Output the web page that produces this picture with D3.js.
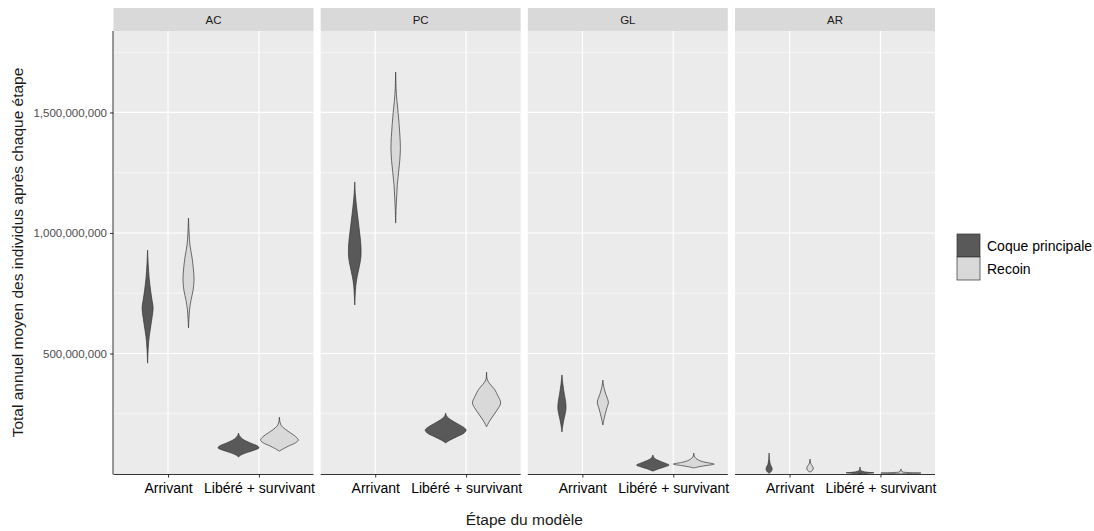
<!DOCTYPE html>
<meta charset="utf-8">
<style>
body { margin: 0; background: #fff; }
text { font-family: "Liberation Sans", Arial, sans-serif; }
</style>
<svg width="1094" height="531"></svg>
<script src="https://d3js.org/d3.v7.min.js"></script>
<script>

// facets, stages, groups
var panels = ["AC", "PC", "GL", "AR"];
var stages = ["Arrivant", "Libéré + survivant"];
var groups = ["Coque principale", "Recoin"];
var groupFill = ["#595959", "#D9D9D9"];

var yMajor = [500000000, 1000000000, 1500000000];
var yMinor = [250000000, 750000000, 1250000000, 1750000000];

// violin outlines: [value in millions, relative half-width]
var violins = [
  ["AC", "Arrivant", "Coque principale", [[929,0],[870,0.03],[810,0.08],[760,0.15],[720,0.22],[690,0.27],[650,0.22],[610,0.15],[570,0.08],[520,0.03],[460,0]]],
  ["AC", "Arrivant", "Recoin", [[1062,0],[1000,0.03],[950,0.07],[900,0.17],[850,0.24],[805,0.27],[760,0.22],[720,0.12],[680,0.05],[640,0.02],[606,0]]],
  ["AC", "Libéré + survivant", "Coque principale", [[170,0],[160,0.04],[145,0.2],[130,0.55],[115,0.95],[108,1],[100,0.8],[90,0.45],[80,0.15],[71,0]]],
  ["AC", "Libéré + survivant", "Recoin", [[236,0],[215,0.03],[200,0.1],[185,0.3],[170,0.55],[155,0.8],[141,0.92],[130,0.8],[118,0.5],[105,0.2],[95,0]]],
  ["PC", "Arrivant", "Coque principale", [[1212,0],[1160,0.03],[1100,0.1],[1050,0.17],[1000,0.24],[950,0.3],[900,0.3],[860,0.22],[820,0.12],[780,0.05],[740,0.02],[701,0]]],
  ["PC", "Arrivant", "Recoin", [[1668,0],[1600,0.02],[1550,0.06],[1500,0.12],[1450,0.17],[1400,0.21],[1350,0.23],[1300,0.2],[1250,0.14],[1200,0.08],[1150,0.05],[1100,0.02],[1041,0]]],
  ["PC", "Libéré + survivant", "Coque principale", [[253,0],[240,0.05],[225,0.25],[210,0.55],[195,0.85],[183,1],[170,0.9],[155,0.55],[140,0.2],[129,0]]],
  ["PC", "Libéré + survivant", "Recoin", [[423,0],[390,0.04],[370,0.2],[350,0.4],[325,0.55],[295,0.69],[270,0.55],[245,0.35],[220,0.15],[196,0]]],
  ["GL", "Arrivant", "Coque principale", [[411,0],[370,0.05],[330,0.12],[300,0.18],[274,0.2],[250,0.16],[220,0.08],[195,0.03],[174,0]]],
  ["GL", "Arrivant", "Recoin", [[390,0],[360,0.05],[330,0.15],[310,0.24],[295,0.27],[275,0.2],[250,0.12],[225,0.05],[203,0]]],
  ["GL", "Libéré + survivant", "Coque principale", [[79,0],[65,0.08],[55,0.3],[45,0.6],[37,0.8],[30,0.6],[22,0.3],[12,0]]],
  ["GL", "Libéré + survivant", "Recoin", [[87,0],[70,0.05],[55,0.3],[48,0.6],[41,1],[35,0.6],[30,0.25],[25,0]]],
  ["AR", "Arrivant", "Coque principale", [[87,0],[60,0.02],[40,0.06],[30,0.12],[20,0.15],[10,0.1],[3,0]]],
  ["AR", "Arrivant", "Recoin", [[62,0],[45,0.03],[35,0.1],[25,0.16],[15,0.12],[8,0]]],
  ["AR", "Libéré + survivant", "Coque principale", [[29,0],[15,0.04],[8,0.3],[5,0.68],[2,0.3],[0,0]]],
  ["AR", "Libéré + survivant", "Recoin", [[21,0],[10,0.05],[6,0.4],[4,0.98],[2,0.4],[0,0]]]
];

var svg = d3.select("svg");

var panelTop = 31, panelBottom = 474, stripTop = 8;

var px = d3.scaleBand().domain(panels).range([113.5, 935]).paddingInner(0.0347).paddingOuter(0);
var y = d3.scaleLinear().domain([0, 1838000000]).range([panelBottom, panelTop]);
var xIn = d3.scaleLinear().domain([0.4, 2.6]).range([0, px.bandwidth()]);
var dodge = 0.225;

function stageX(s) { return xIn(stages.indexOf(s) + 1); }

panels.forEach(function(p) {
  var g = svg.append("g").attr("transform", "translate(" + px(p) + ",0)");
  var w = px.bandwidth();

  g.append("rect").attr("x", 0).attr("y", panelTop).attr("width", w)
    .attr("height", panelBottom - panelTop).attr("fill", "#EBEBEB");

  g.selectAll(".minor").data(yMinor).enter().append("line")
    .attr("x1", 0).attr("x2", w)
    .attr("y1", function(d) { return y(d); }).attr("y2", function(d) { return y(d); })
    .attr("stroke", "#fff").attr("stroke-width", 0.6);
  g.selectAll(".major").data(yMajor).enter().append("line")
    .attr("x1", 0).attr("x2", w)
    .attr("y1", function(d) { return y(d); }).attr("y2", function(d) { return y(d); })
    .attr("stroke", "#fff").attr("stroke-width", 1.2);
  g.selectAll(".vmajor").data(stages).enter().append("line")
    .attr("x1", stageX).attr("x2", stageX)
    .attr("y1", panelTop).attr("y2", panelBottom)
    .attr("stroke", "#fff").attr("stroke-width", 1.2);

  // strip
  g.append("rect").attr("x", 0).attr("y", stripTop).attr("width", w)
    .attr("height", panelTop - stripTop).attr("fill", "#D9D9D9");
  g.append("text").attr("x", w / 2).attr("y", (stripTop + panelTop) / 2 + 4)
    .attr("text-anchor", "middle").attr("font-size", "11.5px").attr("fill", "#1A1A1A")
    .text(p);

  // violins
  var area = d3.area()
    .y(function(d) { return y(d[0] * 1e6); })
    .curve(d3.curveCatmullRom);

  violins.filter(function(v) { return v[0] == p; }).forEach(function(v) {
    var gi = groups.indexOf(v[2]);
    var cx = stages.indexOf(v[1]) + 1 + (gi == 0 ? -dodge : dodge);
    area.x0(function(d) { return xIn(cx - d[1] * dodge); })
        .x1(function(d) { return xIn(cx + d[1] * dodge); });
    g.append("path").datum(v[3]).attr("d", area)
      .attr("fill", groupFill[gi]).attr("stroke", "#333").attr("stroke-width", 0.7);
  });

  // bottom axis
  var xa = d3.scaleOrdinal().domain(stages).range(stages.map(stageX));
  var ax = g.append("g").attr("transform", "translate(0," + panelBottom + ")")
    .call(d3.axisBottom(xa).tickSize(3.5).tickPadding(6));
  ax.select(".domain").attr("d", "M0,0.5H" + w).attr("stroke", "#333");
  ax.selectAll(".tick line").attr("stroke", "#333");
  ax.selectAll(".tick text").attr("font-size", "14px").attr("fill", "#000")
    .attr("font-family", "Liberation Sans, Arial, sans-serif");
});

// y axis on first panel
var ay = svg.append("g").attr("transform", "translate(" + px(panels[0]) + ",0)")
  .call(d3.axisLeft(y).tickValues(yMajor).tickFormat(d3.format(",")).tickSize(3.5).tickPadding(3));
ay.select(".domain").attr("d", "M-0.5," + panelTop + "V" + (panelBottom + 0.5)).attr("stroke", "#333");
ay.selectAll(".tick line").attr("stroke", "#333");
ay.selectAll(".tick text").attr("font-size", "11.5px").attr("fill", "#4D4D4D")
  .attr("font-family", "Liberation Sans, Arial, sans-serif");

// axis titles
svg.append("text").attr("x", (px(panels[0]) + px(panels[3]) + px.bandwidth()) / 2).attr("y", 525)
  .attr("text-anchor", "middle").attr("font-size", "15.5px").attr("fill", "#1A1A1A")
  .text("Étape du modèle");
svg.append("text").attr("transform", "translate(23," + (panelTop + panelBottom) / 2 + ") rotate(-90)")
  .attr("text-anchor", "middle").attr("font-size", "15.5px").attr("fill", "#1A1A1A")
  .text("Total annuel moyen des individus après chaque étape");

// legend
var leg = svg.append("g").attr("transform", "translate(957,234)");
groups.forEach(function(gname, i) {
  leg.append("rect").attr("x", 0).attr("y", i * 23).attr("width", 23).attr("height", 23)
    .attr("fill", groupFill[i]).attr("stroke", "#333").attr("stroke-width", 0.7);
  leg.append("text").attr("x", 30).attr("y", i * 23 + 16.5)
    .attr("font-size", "14px").attr("fill", "#000").text(gname);
});

</script>
